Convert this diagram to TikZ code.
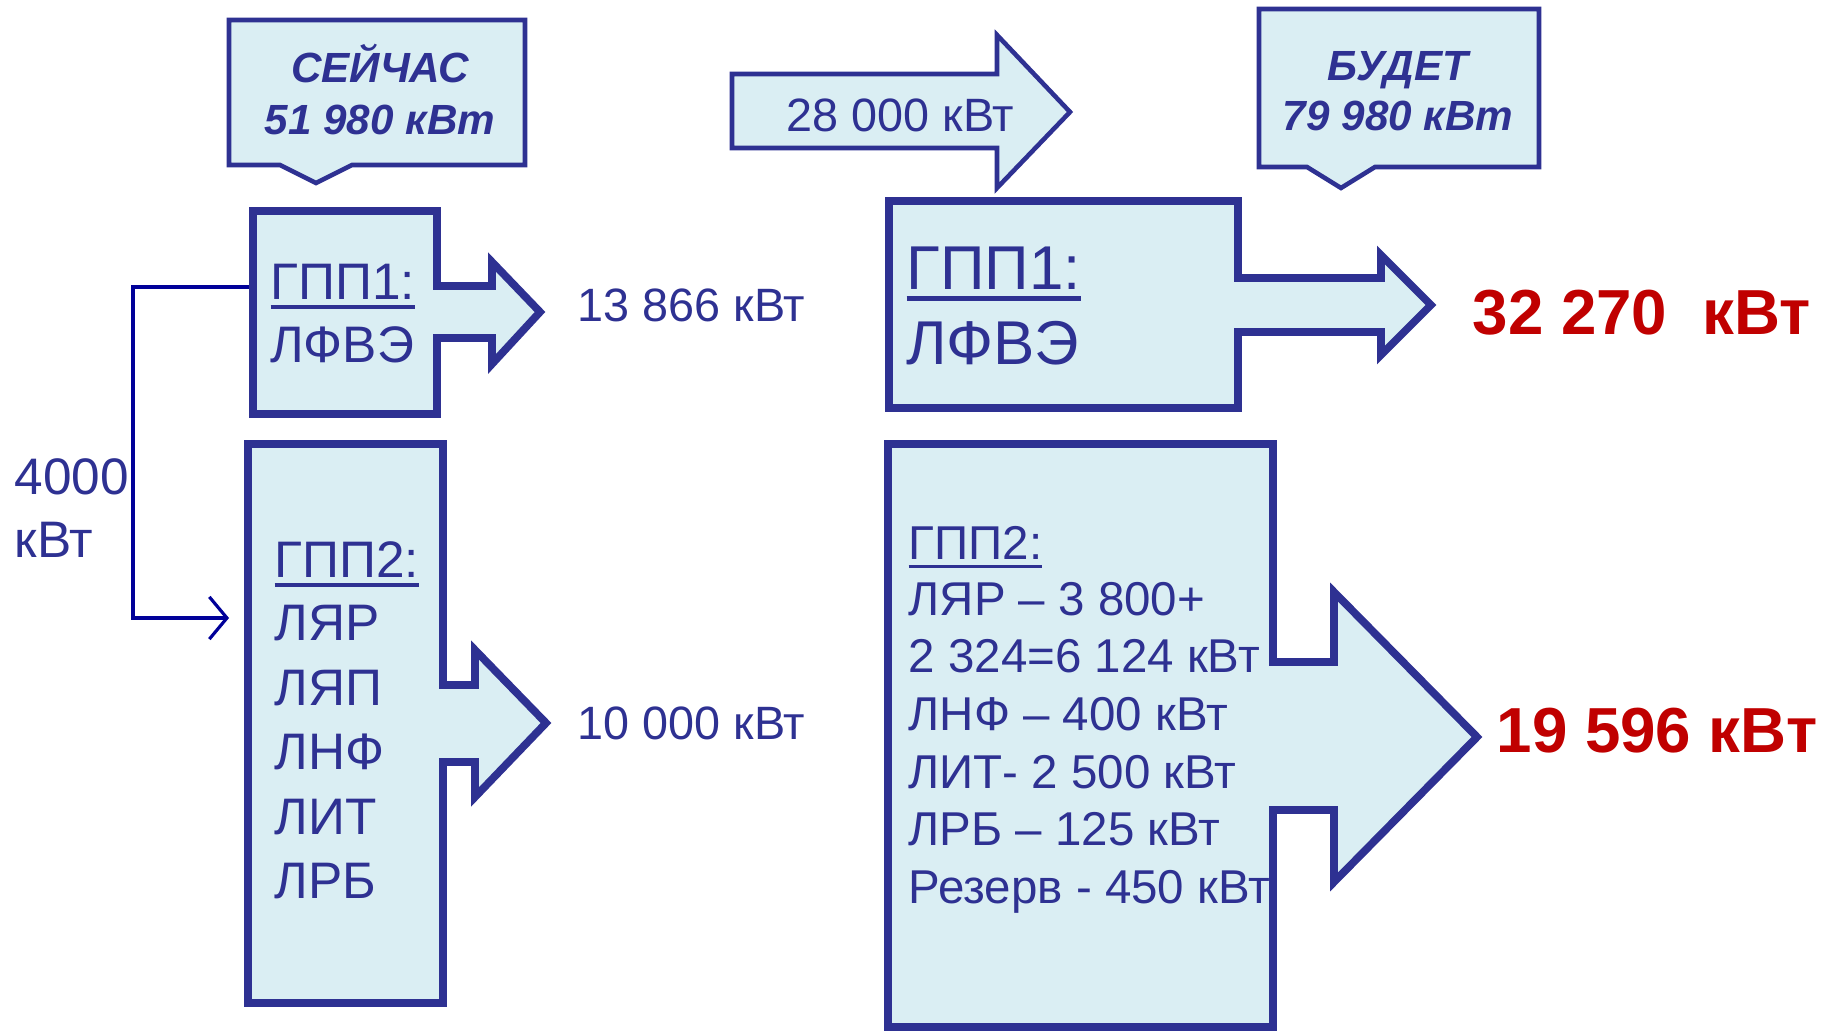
\documentclass[tikz,border=0pt]{standalone}
\usepackage{fontspec}
\setmainfont{Liberation Sans}
\usetikzlibrary{arrows.meta}

\definecolor{lineblue}{RGB}{46,49,146}
\definecolor{boxfill}{RGB}{218,238,243}
\definecolor{linkblue}{RGB}{0,0,153}
\definecolor{sumred}{RGB}{192,0,0}

% underlined heading inside a box
\newcommand{\gpphead}[1]{\setbox0\hbox{#1}\rlap{\rule[-0.17em]{\wd0}{0.07em}}\box0}

\tikzset{
  panel/.style={fill=boxfill,draw=lineblue,line width=2.2pt},
  tag/.style={fill=boxfill,draw=lineblue,line width=1.3pt},
  link/.style={draw=linkblue,line width=0.9pt},
  tagtxt/.style={text=lineblue,inner sep=0pt,anchor=base,font=\fontsize{12}{12}\selectfont\bfseries\itshape},
  boxtxt/.style={text=lineblue,inner sep=0pt,anchor=base west,font=\fontsize{14.6}{14.6}\selectfont},
  bigtxt/.style={text=lineblue,inner sep=0pt,anchor=base west,font=\fontsize{17.6}{17.6}\selectfont},
  listtxt/.style={text=lineblue,inner sep=0pt,anchor=base west,font=\fontsize{13.5}{13.5}\selectfont},
  val/.style={text=lineblue,inner sep=0pt,anchor=base west,font=\fontsize{13.3}{13.3}\selectfont},
  sum/.style={text=sumred,inner sep=0pt,anchor=base west,font=\fontsize{18.1}{18.1}\selectfont\bfseries}
}

\begin{document}
\begin{tikzpicture}[x=0.01cm,y=-0.01cm]
\useasboundingbox (0,0) rectangle (1821,1031);

% callouts on top
\draw[tag] (229,20) -- (525,20) -- (525,165) -- (352,165) -- (316,183) -- (280,165) -- (229,165) -- cycle;
\node[tagtxt] (nowhead) at (380,83) {СЕЙЧАС};
\node[tagtxt] (nowsum) at (380,135) {51 980 кВт};

\draw[tag] (1259,9) -- (1539,9) -- (1539,167) -- (1375,167) -- (1341,188) -- (1307,167) -- (1259,167) -- cycle;
\node[tagtxt] (newhead) at (1398,81) {БУДЕТ};
\node[tagtxt] (newsum) at (1398,131) {79 980 кВт};

\draw[tag] (732,74) -- (997,74) -- (997,35) -- (1070,112) -- (997,188) -- (997,148) -- (732,148) -- cycle;
\node[val] (added) at (786,132) {28 000 кВт};

% now: GPP1 and GPP2
\draw[panel] (253,211) -- (437,211) -- (437,286) -- (492,286) -- (492,262) -- (540,312) -- (492,364) -- (492,338) -- (437,338) -- (437,414) -- (253,414) -- cycle;
\node[boxtxt] (g1now) at (270,300) {\gpphead{ГПП1:}};
\node[boxtxt] (g1now-a) at (270,363) {ЛФВЭ};
\node[val] (g1now-out) at (577,322) {13 866 кВт};

\draw[panel] (248,444) -- (443,444) -- (443,685) -- (475,685) -- (475,650) -- (546,723) -- (475,797) -- (475,762) -- (443,762) -- (443,1003) -- (248,1003) -- cycle;
\node[boxtxt] (g2now) at (274,578) {\gpphead{ГПП2:}};
\node[boxtxt] (g2now-a) at (274,641) {ЛЯР};
\node[boxtxt] (g2now-b) at (274,706) {ЛЯП};
\node[boxtxt] (g2now-c) at (274,769) {ЛНФ};
\node[boxtxt] (g2now-d) at (274,834) {ЛИТ};
\node[boxtxt] (g2now-e) at (274,898) {ЛРБ};
\node[val] (g2now-out) at (577,739) {10 000 кВт};

% transfer from GPP1 to GPP2
\node[boxtxt] (move) at (14,495) {4000};
\node[boxtxt] (move-u) at (14,558) {кВт};
\coordinate (g1in) at (249,287);
\coordinate (bend) at (133,618);
\coordinate (g2in) at (229,618);
\draw[link,-{Straight Barb[length=5pt,width=12pt]}] (g1in) -| (bend) -- (g2in);

% later: GPP1 and GPP2
\draw[panel] (889,201) -- (1238,201) -- (1238,278) -- (1381,278) -- (1381,255) -- (1431,305) -- (1381,355) -- (1381,332) -- (1238,332) -- (1238,408) -- (889,408) -- cycle;
\node[bigtxt] (g1new) at (906,290) {\gpphead{ГПП1:}};
\node[bigtxt] (g1new-a) at (906,365) {ЛФВЭ};
\node[sum] (g1new-out) at (1472,335) {32 270~~кВт};

\draw[panel] (888,444) -- (1273,444) -- (1273,662) -- (1334,662) -- (1334,592) -- (1477,737) -- (1334,882) -- (1334,810) -- (1273,810) -- (1273,1027) -- (888,1027) -- cycle;
\node[listtxt] (g2new) at (908,560) {\gpphead{ГПП2:}};
\node[listtxt] (g2new-a) at (908,616) {ЛЯР – 3 800+};
\node[listtxt] (g2new-b) at (908,673) {2 324=6 124 кВт};
\node[listtxt] (g2new-c) at (908,731) {ЛНФ – 400 кВт};
\node[listtxt] (g2new-d) at (908,788) {ЛИТ- 2 500 кВт};
\node[listtxt] (g2new-e) at (908,846) {ЛРБ – 125 кВт};
\node[listtxt] (g2new-f) at (908,903) {Резерв - 450 кВт};
\node[sum] (g2new-out) at (1496,752) {19 596 кВт};

\end{tikzpicture}
\end{document}
